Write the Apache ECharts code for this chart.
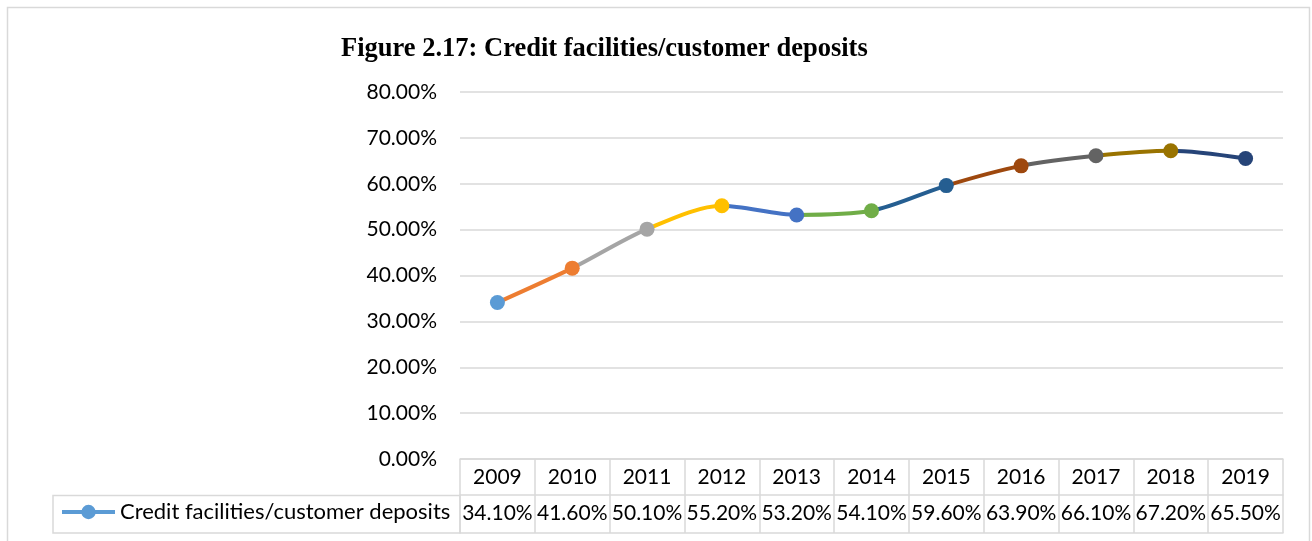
<!DOCTYPE html>
<html><head><meta charset="utf-8">
<script src="https://cdn.jsdelivr.net/npm/echarts@6/dist/echarts.min.js"></script>
<style>html,body{margin:0;padding:0;background:#fff}#c{width:1312px;height:541px}</style>
</head><body><div id="c"></div>
<script>
const categories = ['2009','2010','2011','2012','2013','2014','2015','2016','2017','2018','2019'];
const values = [34.1, 41.6, 50.1, 55.2, 53.2, 54.1, 59.6, 63.9, 66.1, 67.2, 65.5];
const yTicks = {min: 0, max: 80, interval: 10};
const seriesName = 'Credit facilities/customer deposits';
const titleText = 'Figure 2.17: Credit facilities/customer deposits';
const pointColors = ['#5B9BD5','#ED7D31','#A5A5A5','#FFC000','#4472C4','#70AD47','#255E91','#9E480E','#636363','#997300','#264478'];

const FONT = 'Lato';
const GRID = '#d9d9d9';
const pieces = pointColors.map((c, i) => i === 0 ? {lte: 0, color: c} : {gt: i - 1, lte: i, color: c});

const chart = echarts.init(document.getElementById('c'), null, {renderer: 'canvas'});
chart.setOption({
  animation: false,
  backgroundColor: '#fff',
  title: {text: titleText, left: 341, top: 36, padding: 0, textStyle: {fontFamily: 'Liberation Serif', fontWeight: 'bold', fontSize: 26.5, color: '#000'}},
  grid: {left: 460, right: 29, top: 92, bottom: 82},
  legend: {show: true, left: 60, top: 501, itemWidth: 53, itemHeight: 18, itemGap: 2, padding: 0,
    textStyle: {fontFamily: FONT, fontSize: 22, color: '#000'},
    itemStyle: {color: '#5B9BD5'}, lineStyle: {color: '#5B9BD5', width: 4},
    data: [seriesName]},
  visualMap: {show: false, type: 'piecewise', dimension: 0, seriesIndex: 0, pieces: pieces},
  xAxis: [
    {type: 'category', data: categories, position: 'bottom',
      axisLine: {show: true, lineStyle: {color: GRID, width: 1.5}},
      axisTick: {show: true, length: 74, lineStyle: {color: GRID, width: 1.5}},
      axisLabel: {fontFamily: FONT, fontSize: 21, color: '#000', margin: 8, interval: 0}},
    {type: 'category', data: values.map(v => v.toFixed(2) + '%'), position: 'bottom', offset: 36,
      axisLine: {show: true, lineStyle: {color: GRID, width: 1.5}},
      axisTick: {show: false},
      axisLabel: {fontFamily: FONT, fontSize: 21, color: '#000', margin: 8, interval: 0}},
    {type: 'category', data: categories, position: 'bottom', offset: 74,
      axisLine: {show: true, lineStyle: {color: GRID, width: 1.5}},
      axisTick: {show: false}, axisLabel: {show: false}}
  ],
  yAxis: {type: 'value', min: yTicks.min, max: yTicks.max, interval: yTicks.interval,
    axisLine: {show: false}, axisTick: {show: false},
    splitLine: {lineStyle: {color: GRID, width: 1.5}},
    axisLabel: {fontFamily: FONT, fontSize: 21, color: '#000', margin: 23, formatter: v => v.toFixed(2) + '%'}},
  graphic: [
    {type: 'rect', shape: {x: 7.5, y: 7.5, width: 1302, height: 600}, style: {fill: 'none', stroke: GRID, lineWidth: 1.5}, silent: true},
    {type: 'rect', shape: {x: 53, y: 495.5, width: 407, height: 37.5}, style: {fill: 'none', stroke: GRID, lineWidth: 1.5}, silent: true}
  ],
  series: [{
    name: seriesName, type: 'line', data: values, smooth: 0.3,
    symbol: 'circle', symbolSize: 15, showAllSymbol: true,
    lineStyle: {width: 4}
  }]
});
</script></body></html>
